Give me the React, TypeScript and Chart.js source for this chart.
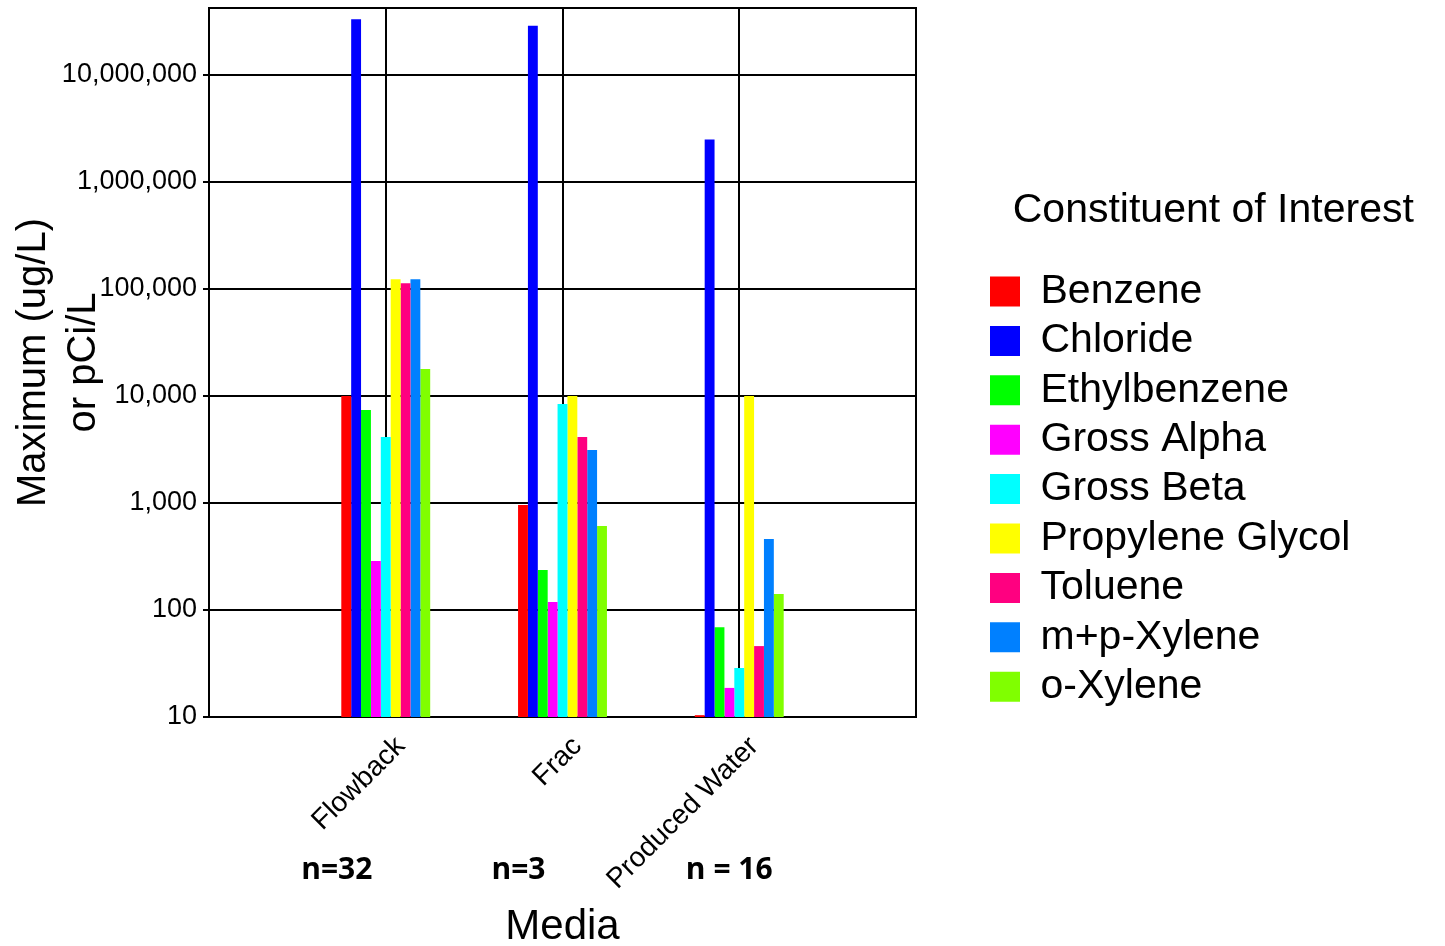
import React, { useEffect, useRef } from 'react';
import { Chart, registerables } from 'chart.js';

Chart.register(...registerables);

// ---- data ----
const media = ['Flowback', 'Frac', 'Produced Water'];
const sampleCounts = ['n=32', 'n=3', 'n = 16'];
const constituents = [
  'Benzene',
  'Chloride',
  'Ethylbenzene',
  'Gross Alpha',
  'Gross Beta',
  'Propylene Glycol',
  'Toluene',
  'm+p-Xylene',
  'o-Xylene',
];
const benzene = [10000, 960, 10.4];
const chloride = [33100000, 28900000, 2500000];
const ethylbenzene = [7400, 237, 69];
const grossAlpha = [287, 119, 18.7];
const grossBeta = [4140, 8420, 28.7];
const propyleneGlycol = [123000, 10000, 10000];
const toluene = [113000, 4140, 46];
const mpXylene = [123000, 3130, 461];
const oXylene = [17900, 610, 141];
const yTickValues = [10, 100, 1000, 10000, 100000, 1000000, 10000000];
const yMin = 10;
const yMax = 42270000;

const seriesValues = [
  benzene,
  chloride,
  ethylbenzene,
  grossAlpha,
  grossBeta,
  propyleneGlycol,
  toluene,
  mpXylene,
  oXylene,
];
const seriesColors = [
  '#FF0000',
  '#0000FF',
  '#00FF00',
  '#FF00FF',
  '#00FFFF',
  '#FFFF00',
  '#FF0080',
  '#0080FF',
  '#80FF00',
];

const FONT = "'Liberation Sans', Arial, sans-serif";
const W = 1445;
const H = 946;
const LEGEND_W = 463.4;

const legendWidthPlugin = {
  id: 'legendWidth',
  beforeLayout(chart: any) {
    const lg = chart.legend;
    if (lg && !lg.__patched) {
      const orig = lg.fit.bind(lg);
      lg.fit = () => {
        orig();
        lg.width = LEGEND_W;
      };
      lg.__patched = true;
    }
  },
};

const framePlugin = {
  id: 'frame',
  beforeDatasetsDraw(chart: any) {
    const { ctx, chartArea } = chart;
    ctx.save();
    ctx.strokeStyle = '#000';
    ctx.lineWidth = 2;
    ctx.strokeRect(chartArea.left, chartArea.top, chartArea.right - chartArea.left, chartArea.bottom - chartArea.top);
    ctx.restore();
  },
};

const countOffsets = [-49, -44, -10];
const countsPlugin = {
  id: 'counts',
  afterDraw(chart: any) {
    const { ctx } = chart;
    const xs = chart.scales.x;
    ctx.save();
    ctx.fillStyle = '#000';
    ctx.font = "bold 30px 'Open Sans', 'Liberation Sans', sans-serif";
    ctx.textAlign = 'center';
    ctx.textBaseline = 'middle';
    sampleCounts.forEach((t, i) => {
      const x = xs.getPixelForValue(i + 1) + countOffsets[i];
      ctx.fillText(t, x, 870);
    });
    ctx.restore();
  },
};

export default function App() {
  const ref = useRef<HTMLCanvasElement | null>(null);

  useEffect(() => {
    if (!ref.current) return;
    const labels = ['', ...media, ''];
    const chart = new Chart(ref.current, {
      type: 'bar',
      data: {
        labels,
        datasets: constituents.map((name, i) => ({
          label: name,
          data: [null, ...seriesValues[i], null],
          backgroundColor: seriesColors[i],
          borderWidth: 0,
          yAxisID: 'y',
          categoryPercentage: 0.503,
          barPercentage: 1.0,
        })),
      },
      options: {
        responsive: false,
        animation: false,
        devicePixelRatio: 1,
        layout: { padding: { top: 8, left: 0, right: 0, bottom: 0 } },
        plugins: {
          tooltip: { enabled: false },
          legend: {
            position: 'right',
            align: 'start',
            labels: {
              boxWidth: 30,
              boxHeight: 30,
              padding: 8.4,
              color: '#000',
              font: { family: FONT, size: 41 },
            },
            title: {
              display: true,
              text: 'Constituent of Interest',
              color: '#000',
              font: { family: FONT, size: 41, lineHeight: 1.2 },
              padding: { top: 182, bottom: 23.4 },
            },
          },
        },
        scales: {
          x: {
            type: 'category',
            offset: false,
            grid: { color: '#000', lineWidth: 2, drawTicks: false, offset: false },
            border: { display: true, color: '#000', width: 2 },
            ticks: {
              autoSkip: false,
              maxRotation: 45,
              minRotation: 45,
              padding: 13,
              labelOffset: 15,
              color: '#000',
              font: { family: FONT, size: 28 },
            },
            title: {
              display: true,
              text: 'Media',
              color: '#000',
              font: { family: FONT, size: 42, lineHeight: 0.88 },
              padding: { top: 0, bottom: 0 },
            },
            afterFit: (s: any) => {
              s.height = H - 717;
              s.paddingLeft = 0;
              s.paddingRight = 0;
            },
          },
          y: {
            type: 'logarithmic',
            position: 'left',
            min: yMin,
            max: yMax,
            afterBuildTicks: (s: any) => {
              s.ticks = yTickValues.map((v) => ({ value: v }));
            },
            ticks: {
              padding: 6,
              color: '#000',
              font: { family: FONT, size: 27 },
              callback: (v: any) => Number(v).toLocaleString('en-US'),
            },
            grid: { color: '#000', lineWidth: 2, drawTicks: true, tickLength: 6 },
            border: { display: true, color: '#000', width: 2 },
            title: {
              display: true,
              text: ['Maximum (ug/L)', 'or pCi/L'],
              color: '#000',
              font: { family: FONT, size: 40, lineHeight: 1.25 },
              padding: { top: 9, bottom: 0 },
            },
            afterFit: (s: any) => {
              s.width = 209;
              s.paddingTop = 0;
              s.paddingBottom = 0;
            },
          },
          gap: {
            type: 'linear',
            position: 'right',
            display: true,
            grid: { display: false, drawTicks: false },
            border: { display: false },
            ticks: { display: false },
            afterFit: (s: any) => {
              s.width = W - 209 - 707 - LEGEND_W;
              s.paddingTop = 0;
              s.paddingBottom = 0;
            },
          },
        },
      } as any,
      plugins: [legendWidthPlugin, framePlugin, countsPlugin],
    });
    return () => chart.destroy();
  }, []);

  return (
    <div style={{ position: 'absolute', left: 0, top: 0, width: W, height: H, background: '#fff' }}>
      <canvas ref={ref} width={W} height={H} style={{ display: 'block' }} />
    </div>
  );
}
